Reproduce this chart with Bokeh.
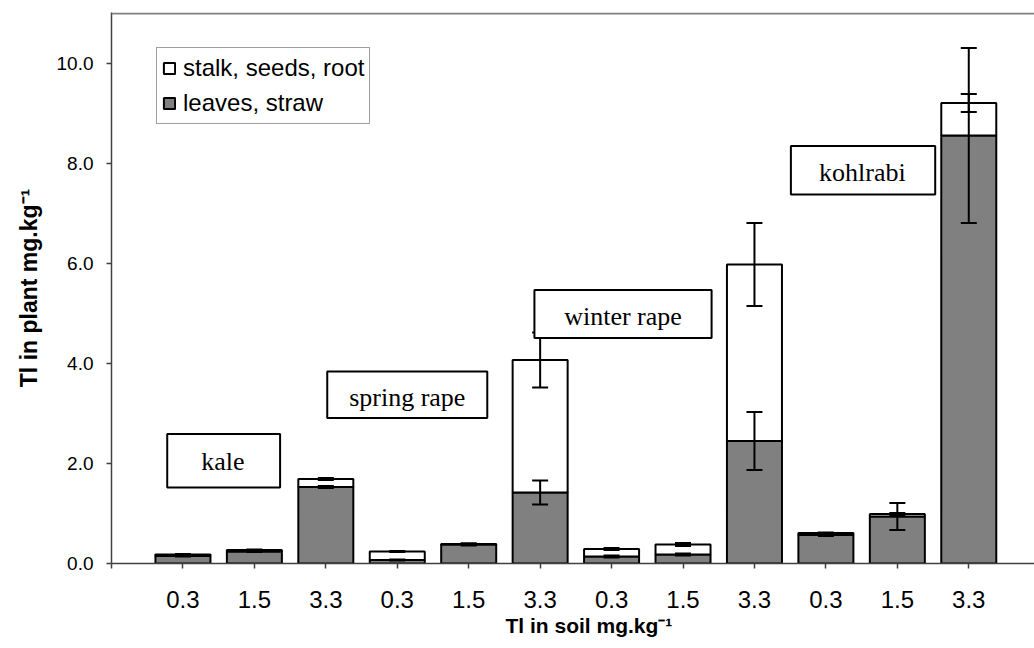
from bokeh.plotting import figure
from bokeh.models import (Range1d, FixedTicker, PrintfTickFormatter, Whisker, TeeHead,
                          ColumnDataSource, BoxAnnotation, Label, Legend, LegendItem, Span, Title)
from bokeh.embed import file_html
from bokeh.resources import INLINE

# ---------------- data ----------------
crops = ["kale", "spring rape", "winter rape", "kohlrabi"]
soil_levels = ["0.3", "1.5", "3.3"]
tick_labels = soil_levels * 4
leaves = [0.15, 0.24, 1.53, 0.07, 0.38, 1.42, 0.14, 0.18, 2.45, 0.57, 0.94, 8.56]
stalk = [0.03, 0.03, 0.16, 0.17, 0.01, 2.65, 0.15, 0.20, 3.53, 0.04, 0.05, 0.65]
leaves_err = [0.01, 0.01, 0.02, 0.01, 0.02, 0.24, 0.02, 0.02, 0.58, 0.02, 0.27, 1.75]
stalk_err = [0.01, 0.01, 0.02, 0.01, 0.01, 0.55, 0.02, 0.03, 0.83, 0.01, 0.02, 0.18]
series_names = ["stalk, seeds, root", "leaves, straw"]
y_ticks = [0, 2, 4, 6, 8, 10]
x_title = "Tl in soil mg.kg\u207b\u00b9"
y_title = "Tl in plant mg.kg\u207b\u00b9"

# ---------------- derived ----------------
x = list(range(1, len(leaves) + 1))
total = [a + b for a, b in zip(leaves, stalk)]
src = ColumnDataSource(dict(
    x=x, leaves=leaves, total=total,
    l_up=[v + e for v, e in zip(leaves, leaves_err)],
    l_lo=[v - e for v, e in zip(leaves, leaves_err)],
    s_up=[v + e for v, e in zip(total, stalk_err)],
    s_lo=[v - e for v, e in zip(total, stalk_err)],
))

p = figure(width=1034, height=648, x_range=Range1d(0, 12.92), y_range=Range1d(0, 11.02),
           output_backend="svg", toolbar_location=None,
           min_border_left=111, min_border_right=0, min_border_top=12, min_border_bottom=85)
p.outline_line_color = None
p.xgrid.visible = False
p.ygrid.visible = False
p.background_fill_color = "white"

AX = "#404040"
# y axis
p.yaxis.ticker = FixedTicker(ticks=y_ticks)
p.yaxis.formatter = PrintfTickFormatter(format="%.1f")
p.yaxis.axis_line_color = AX
p.yaxis.axis_line_width = 1.5
p.yaxis.major_tick_line_color = AX
p.yaxis.major_tick_line_width = 1.5
p.yaxis.major_tick_in = 0
p.yaxis.major_tick_out = 5
p.yaxis.minor_tick_line_color = None
p.yaxis.major_label_standoff = 13
p.yaxis.major_label_text_font = "Liberation Sans"
p.yaxis.major_label_text_font_size = "19px"
p.yaxis.major_label_text_color = "black"
p.yaxis.axis_label = y_title
p.yaxis.axis_label_standoff = 12
p.yaxis.axis_label_text_font = "Liberation Sans"
p.yaxis.axis_label_text_font_style = "bold"
p.yaxis.axis_label_text_font_size = "23px"
p.yaxis.axis_label_text_color = "black"

# x axis
p.xaxis.ticker = FixedTicker(ticks=[0] + x)
overrides = {0: ""}
for i, t in zip(x, tick_labels):
    overrides[i] = t
p.xaxis.major_label_overrides = overrides
p.xaxis.axis_line_color = AX
p.xaxis.axis_line_width = 1.5
p.xaxis.major_tick_line_color = AX
p.xaxis.major_tick_line_width = 1.5
p.xaxis.major_tick_in = 0
p.xaxis.major_tick_out = 5
p.xaxis.minor_tick_line_color = None
p.xaxis.major_label_standoff = 22
p.xaxis.major_label_text_font = "Liberation Sans"
p.xaxis.major_label_text_font_size = "24px"
p.xaxis.major_label_text_color = "black"

p.add_layout(Title(text=x_title, align="left", offset=394, standoff=3,
                   text_font="Liberation Sans", text_font_style="bold",
                   text_font_size="21px", text_color="black"), "below")

# top frame line
p.add_layout(Span(location=11.0, dimension="width", line_color="#808080", line_width=2))

# bars
r_leaves = p.vbar(x="x", bottom=0, top="leaves", width=0.77, source=src,
                  fill_color="#808080", line_color="black", line_width=2)
r_stalk = p.vbar(x="x", bottom="leaves", top="total", width=0.77, source=src,
                 fill_color="white", line_color="black", line_width=2)

# error bars
for up, lo in (("l_up", "l_lo"), ("s_up", "s_lo")):
    w = Whisker(base="x", upper=up, lower=lo, source=src, level="annotation",
                line_color="black", line_width=2,
                upper_head=TeeHead(size=16, line_color="black", line_width=2),
                lower_head=TeeHead(size=16, line_color="black", line_width=2))
    p.add_layout(w)

# crop label boxes
boxes = [
    (0.78, 2.36, 1.52, 2.59, 1.56, 2.04),
    (3.02, 5.26, 2.91, 3.84, 4.14, 3.32),
    (5.92, 8.40, 4.51, 5.47, 7.16, 4.94),
    (9.51, 11.53, 7.38, 8.35, 10.51, 7.82),
]
for name, (l, r, b, t, tx, ty) in zip(crops, boxes):
    p.add_layout(BoxAnnotation(left=l, right=r, bottom=b, top=t, fill_color="white",
                               fill_alpha=1, line_color="black", line_width=2, line_alpha=1))
    p.add_layout(Label(x=tx, y=ty, text=name, text_align="center", text_baseline="alphabetic",
                       text_font="Liberation Serif", text_font_size="26px", text_color="black"))

# legend
legend = Legend(items=[LegendItem(label=series_names[0], renderers=[r_stalk]),
                       LegendItem(label=series_names[1], renderers=[r_leaves])],
                location=(45, 439), orientation="vertical",
                border_line_color=AX, border_line_width=1, background_fill_color="white",
                background_fill_alpha=1, label_text_font="Liberation Sans",
                label_text_font_size="24px", label_text_color="black",
                glyph_width=14, glyph_height=14, label_standoff=7, padding=5, spacing=5,
                label_height=30, margin=0)
p.add_layout(legend)

open("out.html", "w").write(file_html(p, INLINE))
